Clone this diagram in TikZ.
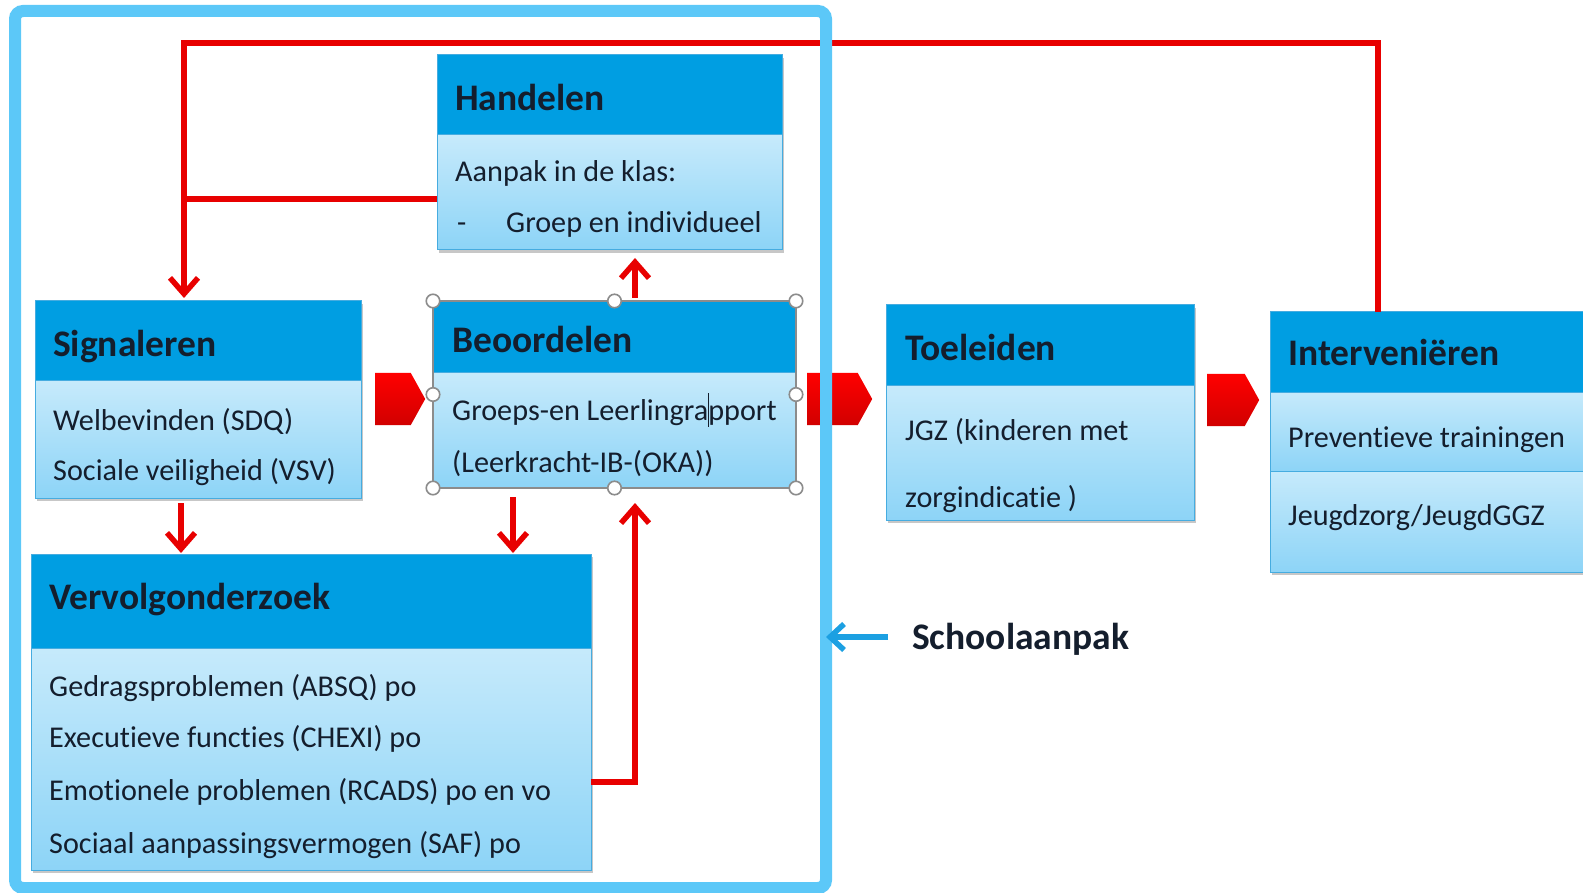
\documentclass[tikz,border=0pt]{standalone}
\usepackage{fontspec}
\setmainfont[Ligatures={NoCommon,NoContextual}]{Carlito}
\usetikzlibrary{arrows.meta,shapes.symbols,shadows,fit,calc}
\definecolor{hdr}{RGB}{0,158,226}
\definecolor{bodytop}{RGB}{198,234,251}
\definecolor{bodybot}{RGB}{141,212,247}
\definecolor{boxline}{RGB}{70,172,224}
\definecolor{framec}{RGB}{92,200,248}
\definecolor{redc}{RGB}{232,0,0}
\definecolor{ink}{RGB}{20,30,45}
\definecolor{schoolblue}{RGB}{28,160,226}
\definecolor{handlec}{RGB}{140,140,140}
\newcommand\ttlfont{\fontsize{37.5}{41}\selectfont\bfseries}
\newcommand\txtfont{\fontsize{30.2}{34}\selectfont}
\begin{document}
\begin{tikzpicture}[x=1pt,y=-1pt,
 hdrbox/.style={draw=boxline, line width=1pt, fill=hdr, anchor=north west, inner sep=0pt, outer sep=0pt},
 bdybox/.style={draw=boxline, line width=1pt, top color=bodytop, bottom color=bodybot, anchor=north west, inner sep=0pt, outer sep=0pt},
 shad/.style={drop shadow={shadow xshift=2pt, shadow yshift=-3pt, opacity=0.22, fill=black}},
 ttl/.style={font=\ttlfont, text=ink, anchor=base west, inner sep=0pt},
 txt/.style={font=\txtfont, text=ink, anchor=base west, inner sep=0pt},
 redline/.style={draw=redc, line width=5.5pt},
 redarrow/.style={redline, -{Straight Barb[length=16pt,width=28pt]}},
 pent/.style={shape=signal, signal to=east, signal from=nowhere, signal pointer angle=122, minimum height=52pt, inner sep=0pt, top color=red, bottom color=red!82!black, draw=none, anchor=west},
 handlenode/.style={circle, draw=handlec, fill=white, line width=1.6pt, minimum size=13.5pt, inner sep=0pt},
 framebox/.style={draw=framec, line width=12pt, rounded corners=8pt, anchor=north west, inner sep=0pt, outer sep=0pt},
 bluearrow/.style={draw=schoolblue, line width=5.5pt, -{Straight Barb[length=14pt,width=26pt]}}
]
\useasboundingbox (0,0) rectangle (1583,893);
\clip (0,0) rectangle (1583,893);
\fill[white] (0,0) rectangle (1583,893);

% Handelen
\node[hdrbox, shad, minimum width=345pt, minimum height=80pt] (hanH) at (437,55) {};
\node[bdybox, shad, minimum width=345pt, minimum height=115pt] (hanB) at (437,135) {};
\node[ttl] (hanT) at (455,111) {Handelen};
\node[txt] (hanL1) at (455,182) {Aanpak in de klas:};
\node[txt] (hanD) at (457,233) {-};
\node[txt] (hanL2) at (506,233) {Groep en individueel};

% Signaleren
\node[hdrbox, shad, minimum width=326pt, minimum height=80pt] (sigH) at (35,301) {};
\node[bdybox, shad, minimum width=326pt, minimum height=117pt] (sigB) at (35,381) {};
\node[ttl] (sigT) at (53,356) {Signaleren};
\node[txt] (sigL1) at (53,430) {Welbevinden (SDQ)};
\node[txt] (sigL2) at (53,480) {Sociale veiligheid (VSV)};

% Beoordelen
\node[hdrbox, minimum width=363pt, minimum height=72pt] (beoH) at (433,301) {};
\node[bdybox, minimum width=363pt, minimum height=115pt] (beoB) at (433,373) {};
\node[fit=(beoH)(beoB), inner sep=0pt, outer sep=0pt, draw=handlec, line width=1.5pt] (beo) {};
\node[ttl] (beoT) at (452,353) {Beoordelen};
\node[txt] (beoL1) at (452,420) {Groeps-en Leerlingra\rlap{\hspace{-0.4pt}\rule[-0.22em]{0.9pt}{1.12em}}pport};
\node[txt] (beoL2) at (452,472) {(Leerkracht-IB-(OKA))};

% Toeleiden
\node[hdrbox, shad, minimum width=308pt, minimum height=81pt] (toeH) at (886,305) {};
\node[bdybox, shad, minimum width=308pt, minimum height=134pt] (toeB) at (886,386) {};
\node[ttl] (toeT) at (905,361) {Toeleiden};
\node[txt] (toeL1) at (905,440) {JGZ (kinderen met};
\node[txt] (toeL2) at (905,507) {zorgindicatie )};

% Interveni\"eren
\node[hdrbox, shad, minimum width=400pt, minimum height=80pt] (intH) at (1270,312) {};
\node[bdybox, shad, minimum width=400pt, minimum height=79pt] (intB1) at (1270,392) {};
\node[bdybox, shad, minimum width=400pt, minimum height=101pt] (intB2) at (1270,471) {};
\node[ttl] (intT) at (1288,366) {Interveniëren};
\node[txt] (intL1) at (1288,447) {Preventieve trainingen};
\node[txt] (intL2) at (1288,525) {Jeugdzorg/JeugdGGZ};

% Vervolgonderzoek
\node[hdrbox, shad, minimum width=560pt, minimum height=94pt] (verH) at (31,554) {};
\node[bdybox, shad, minimum width=560pt, minimum height=222pt] (verB) at (31,648) {};
\node[ttl] (verT) at (49,609) {Vervolgonderzoek};
\node[txt] (verL1) at (49,696) {Gedragsproblemen (ABSQ) po};
\node[txt] (verL2) at (49,747) {Executieve functies (CHEXI) po};
\node[txt] (verL3) at (49,800) {Emotionele problemen (RCADS) po en vo};
\node[txt] (verL4) at (49,853) {Sociaal aanpassingsvermogen (SAF) po};

% pentagon arrows
\node[pent, minimum width=50pt] (p1) at (375,399) {};
\node[pent, minimum width=65pt] (p2) at (807,399) {};
\node[pent, minimum width=52pt] (p3) at (1207,400) {};

% red connectors
\coordinate (topL) at (184,43);
\coordinate (topR) at (1378,43);
\draw[redarrow, shorten >=3pt] (intH.north -| topR) -- (topR) -- (topL) -- (topL |- sigH.north);
\coordinate (hb) at ($(hanB.west)+(0,6.5)$);
\draw[redline] (hb) -- (hb -| topL);
\coordinate (a1) at ($(sigB.south west)+(146,5)$);
\draw[redarrow, shorten >=1pt] (a1) -- (a1 |- verH.north);
\coordinate (a2) at ($(beoB.south west)+(80,9)$);
\draw[redarrow, shorten >=1pt] (a2) -- (a2 |- verH.north);
\coordinate (a3) at ($(verB.north east)+(0,134)$);
\coordinate (a3x) at ($(beoB.south west)+(202,0)$);
\draw[redarrow, shorten >=15pt] (a3) -| (a3x);
\coordinate (a4) at ($(beoH.north west)+(202,-3)$);
\draw[redarrow, shorten >=8pt] (a4) -- (a4 |- hanB.south);

% selection handles
\foreach \a [count=\i] in {north west,north,north east,east,south east,south,south west,west}
  \node[handlenode] (hd\i) at (beo.\a) {};

% school frame
\node[framebox, minimum width=811pt, minimum height=877pt] (frame) at (15,11) {};
\node[ttl] (school) at (912,649) {Schoolaanpak};
\coordinate (bs) at ($(school.base west)+(-24,-12)$);
\draw[bluearrow] (bs) -- (bs -| frame.east);
\end{tikzpicture}
\end{document}
